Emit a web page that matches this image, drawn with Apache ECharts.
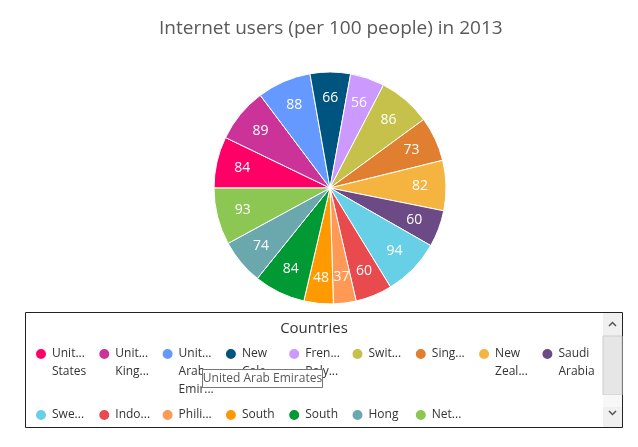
<!DOCTYPE html>
<html>
<head>
<meta charset="utf-8">
<script src="https://cdn.jsdelivr.net/npm/echarts@6/dist/echarts.min.js"></script>
<style>
html,body{margin:0;padding:0;background:#fff;}
#chart{width:638px;height:447px;}
</style>
</head>
<body>
<div id="chart"></div>
<script>
const chartTitle = 'Internet users (per 100 people) in 2013';
const legendTitle = 'Countries';
const categories = ['United States','United Kingdom','United Arab Emirates','New Caledonia','French Polynesia','Switzerland','Singapore','New Zealand','Saudi Arabia','Sweden','Indonesia','Philippines','South Africa','South Korea','Hong Kong','Netherlands'];
const values = [84,89,88,66,56,86,73,82,60,94,60,37,48,84,74,93];
const colors = ['#ff0066','#cc3399','#6699ff','#005580','#cc99ff','#c5c14b','#e07f2f','#f5b440','#6b4a86','#68d0e6','#e84a4e','#ff9955','#ff9900','#009933','#6aa8ae','#8cc653'];
const tooltipText = 'United Arab Emirates';

const FONT = "'Segoe UI', 'Open Sans', sans-serif";
const LH = 18;
const pieData = categories.map((n, i) => ({ name: n, value: values[i], itemStyle: { color: colors[i] } }));
const row1 = categories.slice(0, 9);
const row2 = categories.slice(9);

// one word per line; blank lines before keep the first word level with the icon
function legendFmt(name) {
  const words = name.split(' ');
  return '\n'.repeat(words.length - 1) + words.join('\n');
}
const legendText = { color: '#333', fontSize: 12, fontFamily: FONT, width: 37.5, overflow: 'truncate', lineHeight: LH };
const legendBase = { orient: 'horizontal', itemWidth: 12, itemHeight: 12, itemGap: 7.8, icon: 'circle', padding: 0, selectedMode: false, formatter: legendFmt, textStyle: legendText };

const chart = echarts.init(document.getElementById('chart'), null, { renderer: 'canvas' });
chart.setOption({
  animation: false,
  color: colors,
  title: {
    text: chartTitle, left: 154, top: 14,
    textStyle: { color: '#595959', fontSize: 19, fontWeight: 'normal', fontFamily: FONT }
  },
  legend: [
    Object.assign({ data: row1, left: 34, top: 309 }, legendBase),
    Object.assign({ data: row2, left: 34, top: 388 }, legendBase)
  ],
  series: [
    {
      type: 'pie', center: [330, 188], radius: [0, 116], startAngle: 180, clockwise: true,
      data: pieData, label: { show: false }, labelLine: { show: false },
      itemStyle: { borderColor: '#fff', borderWidth: 1 }
    },
    {
      type: 'pie', center: [330, 188], radius: [58, 116], startAngle: 180, clockwise: true, silent: true,
      data: categories.map((n, i) => ({ name: n, value: values[i] })),
      itemStyle: { color: 'rgba(0,0,0,0)' },
      label: { show: true, position: 'inside', color: '#fff', fontSize: 14, fontFamily: FONT, formatter: '{c}' },
      labelLine: { show: false }, legendHoverLink: false
    }
  ],
  graphic: [
    { type: 'rect', z: 100, shape: { x: 0, y: 422, width: 638, height: 25 }, style: { fill: '#fff' } },
    { type: 'rect', z: 101, shape: { x: 25.5, y: 312.5, width: 597, height: 115 }, style: { fill: 'none', stroke: '#222', lineWidth: 1 } },
    { type: 'rect', z: 101, shape: { x: 603, y: 313, width: 19, height: 114 }, style: { fill: '#f0f0f0' } },
    { type: 'rect', z: 101, shape: { x: 603, y: 336, width: 19, height: 59 }, style: { fill: '#e6e6e6', stroke: '#cdcdcd', lineWidth: 1 } },
    { type: 'rect', z: 101, shape: { x: 603, y: 395, width: 19, height: 12 }, style: { fill: '#f7f7f7' } },
    { type: 'polyline', z: 102, shape: { points: [[609, 326], [612.5, 322.5], [616, 326]] }, style: { stroke: '#555', lineWidth: 1.5, fill: 'none' } },
    { type: 'polyline', z: 102, shape: { points: [[609, 411], [612.5, 414.5], [616, 411]] }, style: { stroke: '#555', lineWidth: 1.5, fill: 'none' } },
    { type: 'text', z: 101, x: 314, y: 321, style: { text: legendTitle, fill: '#333', fontSize: 15, fontFamily: FONT, textAlign: 'center' } },
    { type: 'rect', z: 110, shape: { x: 202.5, y: 369.5, width: 120, height: 18 }, style: { fill: '#fff', stroke: '#767676', lineWidth: 1 } },
    { type: 'text', z: 111, x: 262.5, y: 373, style: { text: tooltipText, fill: '#575757', fontSize: 12, fontFamily: FONT, textAlign: 'center' } }
  ]
});
</script>
</body>
</html>
